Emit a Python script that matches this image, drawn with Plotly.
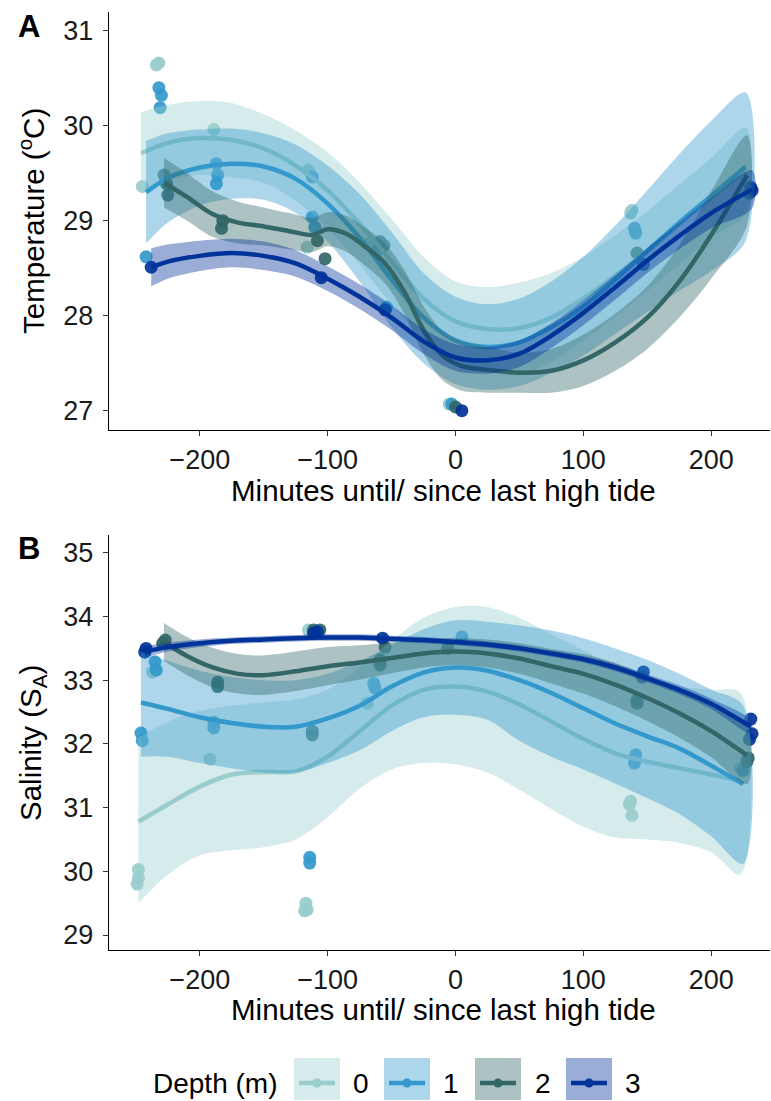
import plotly.graph_objects as go

W, H = 771, 1101

depths = ["0", "1", "2", "3"]
line_colors = ["#99CCCC", "#3399CC", "#336666", "#003399"]
band_colors = ["rgba(153,204,204,0.4)", "rgba(51,153,204,0.4)",
               "rgba(51,102,102,0.4)", "rgba(0,51,153,0.4)"]

# ---------------- Panel A: temperature observations ----------------
temp_obs_x_0 = [-245, -234, -232, -189, -115, -116, -68, -5, 137, 138]
temp_obs_y_0 = [29.36, 30.64, 30.66, 29.96, 29.53, 28.72, 28.76, 27.07, 29.08, 29.11]
temp_obs_x_1 = [-242, -232, -230, -231, -187, -186, -187, -112, -112, -110, -61, -54, -3, 140, 141]
temp_obs_y_1 = [28.62, 30.40, 30.32, 30.19, 29.60, 29.48, 29.39, 29.46, 29.04, 28.93, 28.69, 28.09, 27.07, 28.92, 28.87]
temp_obs_x_2 = [-228, -226, -225, -182, -183, -108, -102, -59, -56, 0, 142, 230]
temp_obs_y_2 = [29.48, 29.39, 29.27, 29.00, 28.92, 28.79, 28.60, 28.78, 28.74, 27.04, 28.66, 29.29]
temp_obs_x_3 = [-238, -105, -55, 5, 147, 232, 231]
temp_obs_y_3 = [28.51, 28.40, 28.06, 27.00, 28.54, 29.32, 29.35]

# Panel A: loess fits with 95% bands
temp_fit_x_0 = [-246, -225, -200, -175, -150, -125, -100, -75, -50, -25, 0, 25, 50, 75, 100, 125, 150, 175, 200, 227]
temp_fit_0 = [29.71, 29.82, 29.87, 29.85, 29.76, 29.58, 29.32, 28.97, 28.57, 28.18, 27.94, 27.86, 27.87, 27.98, 28.18, 28.42, 28.68, 28.96, 29.24, 29.52]
temp_hi_0 = [30.14, 30.22, 30.26, 30.24, 30.12, 29.95, 29.72, 29.40, 29.02, 28.62, 28.36, 28.30, 28.35, 28.45, 28.62, 28.85, 29.10, 29.38, 29.66, 29.98]
temp_lo_0 = [29.28, 29.42, 29.48, 29.46, 29.40, 29.21, 28.92, 28.54, 28.12, 27.74, 27.52, 27.42, 27.39, 27.51, 27.74, 27.99, 28.26, 28.54, 28.82, 29.08]

temp_fit_x_1 = [-242, -225, -200, -175, -150, -125, -100, -75, -50, -25, 0, 25, 50, 75, 100, 125, 150, 175, 200, 227]
temp_fit_1 = [29.30, 29.45, 29.56, 29.60, 29.57, 29.44, 29.18, 28.82, 28.38, 27.98, 27.74, 27.67, 27.72, 27.88, 28.10, 28.38, 28.68, 28.98, 29.26, 29.57]
temp_hi_1 = [29.84, 29.92, 29.96, 29.97, 29.92, 29.80, 29.58, 29.28, 28.88, 28.45, 28.20, 28.12, 28.18, 28.36, 28.62, 28.95, 29.32, 29.70, 30.05, 30.35]
temp_lo_1 = [28.76, 28.98, 29.16, 29.23, 29.22, 29.08, 28.78, 28.36, 27.88, 27.50, 27.28, 27.22, 27.26, 27.40, 27.58, 27.81, 28.04, 28.26, 28.47, 28.79]

temp_fit_x_2 = [-228, -210, -190, -170, -150, -130, -112, -100, -85, -70, -55, -40, -25, -10, 5, 25, 50, 75, 100, 125, 150, 175, 200, 228]
temp_fit_2 = [29.40, 29.25, 29.07, 28.98, 28.94, 28.89, 28.85, 28.91, 28.86, 28.72, 28.55, 28.25, 27.85, 27.58, 27.47, 27.43, 27.40, 27.42, 27.53, 27.72, 27.98, 28.36, 28.85, 29.48]
temp_hi_2 = [29.66, 29.50, 29.31, 29.20, 29.14, 29.08, 29.03, 29.09, 29.05, 28.92, 28.76, 28.48, 28.10, 27.84, 27.73, 27.67, 27.61, 27.65, 27.80, 28.02, 28.31, 28.74, 29.31, 29.90]
temp_lo_2 = [29.14, 29.00, 28.83, 28.76, 28.74, 28.70, 28.67, 28.73, 28.67, 28.52, 28.34, 28.02, 27.60, 27.32, 27.21, 27.19, 27.19, 27.19, 27.26, 27.42, 27.65, 27.98, 28.39, 28.95]

temp_fit_x_3 = [-238, -225, -200, -175, -150, -125, -100, -75, -50, -25, 0, 25, 50, 75, 100, 125, 150, 175, 200, 232]
temp_fit_3 = [28.51, 28.57, 28.63, 28.66, 28.63, 28.55, 28.39, 28.20, 27.98, 27.73, 27.56, 27.53, 27.60, 27.79, 28.03, 28.30, 28.58, 28.84, 29.08, 29.33]
temp_hi_3 = [28.71, 28.75, 28.79, 28.81, 28.78, 28.69, 28.52, 28.33, 28.11, 27.86, 27.70, 27.67, 27.74, 27.92, 28.16, 28.43, 28.71, 28.98, 29.24, 29.53]
temp_lo_3 = [28.31, 28.39, 28.47, 28.51, 28.48, 28.41, 28.26, 28.07, 27.85, 27.60, 27.42, 27.39, 27.46, 27.66, 27.90, 28.17, 28.45, 28.70, 28.92, 29.13]

# ---------------- Panel B: salinity observations ----------------
sal_obs_x_0 = [-248, -248, -249, -237, -192, -117, -116, -118, -115, -69, 137, 136, 138, 223]
sal_obs_y_0 = [30.03, 29.90, 29.80, 33.13, 31.76, 29.50, 29.40, 29.38, 33.79, 32.64, 31.10, 31.05, 30.88, 31.62]
sal_obs_x_1 = [-246, -245, -235, -234, -189, -189, -114, -114, -64, -63, 5, 141, 140, 225]
sal_obs_y_1 = [32.17, 32.05, 33.29, 33.16, 32.34, 32.25, 30.22, 30.13, 32.95, 32.88, 33.68, 31.83, 31.70, 31.58]
sal_obs_x_2 = [-227, -229, -186, -186, -111, -106, -112, -112, -59, -59, -55, -6, 142, 142, 229, 228]
sal_obs_y_2 = [33.63, 33.58, 32.97, 32.90, 33.79, 33.79, 32.20, 32.14, 33.32, 33.24, 33.52, 33.50, 32.69, 32.64, 31.78, 31.72]
sal_obs_x_3 = [-243, -242, -111, -108, -57, 147, 146, 231, 232, 230]
sal_obs_y_3 = [33.44, 33.50, 33.74, 33.76, 33.66, 33.13, 33.05, 32.39, 32.16, 32.07]

# Panel B: loess fits with 95% bands
sal_fit_x_0 = [-248, -225, -200, -175, -150, -125, -100, -75, -50, -25, 0, 25, 50, 75, 100, 125, 150, 175, 200, 223]
sal_fit_0 = [30.78, 31.05, 31.33, 31.52, 31.56, 31.57, 31.80, 32.20, 32.60, 32.85, 32.90, 32.82, 32.62, 32.35, 32.08, 31.85, 31.72, 31.62, 31.52, 31.42]
sal_hi_0 = [32.10, 32.35, 32.52, 32.60, 32.65, 32.70, 32.85, 33.20, 33.62, 33.98, 34.15, 34.15, 33.98, 33.72, 33.47, 33.22, 33.00, 32.90, 32.85, 32.80]
sal_lo_0 = [29.50, 29.95, 30.25, 30.33, 30.38, 30.50, 30.85, 31.30, 31.60, 31.70, 31.68, 31.55, 31.28, 30.98, 30.70, 30.53, 30.50, 30.45, 30.30, 29.95]

sal_fit_x_1 = [-246, -225, -200, -175, -150, -125, -100, -75, -50, -25, 0, 25, 50, 75, 100, 125, 150, 175, 200, 225]
sal_fit_1 = [32.65, 32.55, 32.42, 32.33, 32.27, 32.27, 32.40, 32.60, 32.90, 33.12, 33.20, 33.15, 33.00, 32.80, 32.56, 32.32, 32.12, 31.93, 31.66, 31.37]
sal_hi_1 = [33.45, 33.30, 33.15, 33.05, 33.00, 33.00, 33.10, 33.30, 33.55, 33.80, 33.94, 33.92, 33.86, 33.78, 33.66, 33.50, 33.32, 33.10, 32.85, 32.60]
sal_lo_1 = [31.80, 31.80, 31.70, 31.62, 31.55, 31.55, 31.70, 31.90, 32.20, 32.42, 32.46, 32.38, 32.05, 31.80, 31.60, 31.38, 31.15, 30.90, 30.55, 30.12]

sal_fit_x_2 = [-228, -210, -190, -170, -150, -125, -100, -75, -50, -25, 0, 25, 50, 75, 100, 125, 150, 175, 200, 228]
sal_fit_2 = [33.60, 33.38, 33.20, 33.10, 33.08, 33.14, 33.22, 33.28, 33.35, 33.42, 33.45, 33.42, 33.34, 33.22, 33.10, 32.93, 32.72, 32.48, 32.20, 31.82]
sal_hi_2 = [33.90, 33.68, 33.51, 33.41, 33.39, 33.45, 33.52, 33.55, 33.59, 33.64, 33.66, 33.64, 33.58, 33.49, 33.41, 33.27, 33.08, 32.86, 32.61, 32.27]
sal_lo_2 = [33.30, 33.08, 32.89, 32.79, 32.77, 32.83, 32.92, 33.01, 33.11, 33.20, 33.24, 33.20, 33.10, 32.95, 32.79, 32.59, 32.36, 32.10, 31.79, 31.37]

sal_fit_x_3 = [-243, -225, -200, -175, -150, -125, -100, -75, -50, -25, 0, 25, 50, 75, 100, 125, 150, 175, 200, 231]
sal_fit_3 = [33.45, 33.52, 33.58, 33.62, 33.64, 33.66, 33.67, 33.67, 33.65, 33.63, 33.60, 33.56, 33.50, 33.42, 33.33, 33.20, 33.03, 32.85, 32.63, 32.27]
sal_hi_3 = [33.54, 33.59, 33.64, 33.67, 33.69, 33.71, 33.72, 33.72, 33.70, 33.68, 33.65, 33.61, 33.55, 33.47, 33.38, 33.26, 33.09, 32.92, 32.71, 32.37]
sal_lo_3 = [33.36, 33.45, 33.52, 33.57, 33.59, 33.61, 33.62, 33.62, 33.60, 33.58, 33.55, 33.51, 33.45, 33.37, 33.28, 33.14, 32.97, 32.78, 32.55, 32.17]

x_ticks = [-200, -100, 0, 100, 200]
temp_ticks = [27, 28, 29, 30, 31]
sal_ticks = [29, 30, 31, 32, 33, 34, 35]

panels = [
    dict(xa="x", ya="y",
         obs=[(temp_obs_x_0, temp_obs_y_0), (temp_obs_x_1, temp_obs_y_1),
              (temp_obs_x_2, temp_obs_y_2), (temp_obs_x_3, temp_obs_y_3)],
         fits=[(temp_fit_x_0, temp_fit_0, temp_lo_0, temp_hi_0),
               (temp_fit_x_1, temp_fit_1, temp_lo_1, temp_hi_1),
               (temp_fit_x_2, temp_fit_2, temp_lo_2, temp_hi_2),
               (temp_fit_x_3, temp_fit_3, temp_lo_3, temp_hi_3)]),
    dict(xa="x2", ya="y2",
         obs=[(sal_obs_x_0, sal_obs_y_0), (sal_obs_x_1, sal_obs_y_1),
              (sal_obs_x_2, sal_obs_y_2), (sal_obs_x_3, sal_obs_y_3)],
         fits=[(sal_fit_x_0, sal_fit_0, sal_lo_0, sal_hi_0),
               (sal_fit_x_1, sal_fit_1, sal_lo_1, sal_hi_1),
               (sal_fit_x_2, sal_fit_2, sal_lo_2, sal_hi_2),
               (sal_fit_x_3, sal_fit_3, sal_lo_3, sal_hi_3)]),
]

fig = go.Figure()

for p in panels:
    # raw points first, smooths (ribbon + line per depth) on top
    for i, (ox, oy) in enumerate(p["obs"]):
        fig.add_trace(go.Scatter(
            x=ox, y=oy, mode="markers", xaxis=p["xa"], yaxis=p["ya"],
            marker=dict(size=13, color=line_colors[i], opacity=0.92, line=dict(width=0)),
            showlegend=False, hoverinfo="skip"))
    for i, (fx, fy, lo, hi) in enumerate(p["fits"]):
        fig.add_trace(go.Scatter(
            x=list(fx) + list(fx)[::-1], y=list(hi) + list(lo)[::-1],
            mode="lines", fill="toself", fillcolor=band_colors[i],
            line=dict(width=0, shape="spline", smoothing=0.9),
            xaxis=p["xa"], yaxis=p["ya"], showlegend=False, hoverinfo="skip"))
        fig.add_trace(go.Scatter(
            x=fx, y=fy, mode="lines",
            line=dict(color=line_colors[i], width=4.5, shape="spline", smoothing=0.9),
            xaxis=p["xa"], yaxis=p["ya"], showlegend=False, hoverinfo="skip"))


def px_x(v):
    return v / W


def px_y(v):
    return 1 - v / H


FONT = "Liberation Sans, Arial, sans-serif"
axis_common = dict(showgrid=False, zeroline=False, showline=True, linecolor="black",
                   linewidth=1.4, ticks="outside", ticklen=5, tickwidth=1.2,
                   tickcolor="#333333", tickfont=dict(family=FONT, size=27, color="#1a1a1a"))

fig.update_layout(
    width=W, height=H, margin=dict(l=0, r=0, t=0, b=0),
    paper_bgcolor="white", plot_bgcolor="white",
    font=dict(family=FONT, color="black"),
    xaxis=dict(domain=[px_x(109), px_x(770)], range=[-271, 246], anchor="y",
               tickvals=x_ticks, **axis_common),
    yaxis=dict(domain=[px_y(430), px_y(12)], range=[26.797, 31.197], anchor="x",
               tickvals=temp_ticks, ticklabelstandoff=4, **axis_common),
    xaxis2=dict(domain=[px_x(109), px_x(770)], range=[-271, 246], anchor="y2",
                tickvals=x_ticks, **axis_common),
    yaxis2=dict(domain=[px_y(950), px_y(535)], range=[28.765, 35.28], anchor="x2",
                tickvals=sal_ticks, ticklabelstandoff=4, **axis_common),
)

ann = []
title_font = dict(family=FONT, size=29.5, color="black")
legend_font = dict(family=FONT, size=28, color="black")
ann.append(dict(text="<b>A</b>", x=px_x(16), y=px_y(26), xanchor="left", yanchor="middle",
                font=dict(family=FONT, size=31, color="black")))
ann.append(dict(text="<b>B</b>", x=px_x(16), y=px_y(548), xanchor="left", yanchor="middle",
                font=dict(family=FONT, size=31, color="black")))
for yy in (490, 1009):
    ann.append(dict(text="Minutes until/ since last high tide", x=px_x(444), y=px_y(yy),
                    xanchor="center", yanchor="middle", font=title_font))
ann.append(dict(text="Temperature (<sup>o</sup>C)", x=px_x(32), y=px_y(221), textangle=-90,
                xanchor="center", yanchor="middle", font=title_font))
ann.append(dict(text="Salinity (S<sub>A</sub>)", x=px_x(32), y=px_y(743), textangle=-90,
                xanchor="center", yanchor="middle", font=title_font))

# legend drawn beneath the panels
leg_y = 1083
ann.append(dict(text="Depth (m)", x=px_x(151), y=px_y(leg_y), xanchor="left", yanchor="middle",
                font=legend_font))
shapes = []
box_left = [294, 384, 475, 566]
label_left = [351, 441, 533, 623]
for i, d in enumerate(depths):
    x0 = box_left[i]
    shapes.append(dict(type="rect", xref="paper", yref="paper",
                       x0=px_x(x0), x1=px_x(x0 + 46), y0=px_y(1100), y1=px_y(1058),
                       fillcolor=band_colors[i], line=dict(width=0)))
    shapes.append(dict(type="line", xref="paper", yref="paper",
                       x0=px_x(x0 + 5), x1=px_x(x0 + 41), y0=px_y(leg_y), y1=px_y(leg_y),
                       line=dict(color=line_colors[i], width=4.5)))
    shapes.append(dict(type="circle", xref="paper", yref="paper",
                       x0=px_x(x0 + 18.5), x1=px_x(x0 + 27.5), y0=px_y(leg_y + 4.5), y1=px_y(leg_y - 4.5),
                       fillcolor=line_colors[i], line=dict(width=0)))
    ann.append(dict(text=d, x=px_x(label_left[i]), y=px_y(leg_y), xanchor="left", yanchor="middle",
                    font=legend_font))

for a in ann:
    a.update(xref="paper", yref="paper", showarrow=False)
fig.update_layout(annotations=ann, shapes=shapes)

fig.write_html("out.html")
